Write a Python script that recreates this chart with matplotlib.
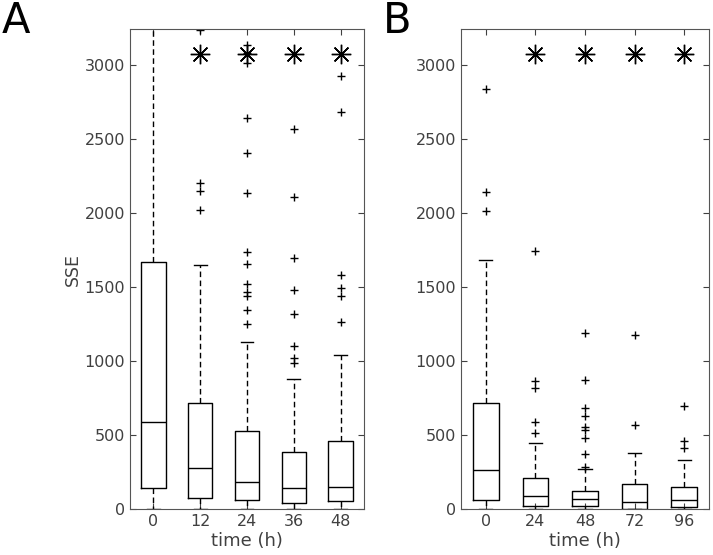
import matplotlib
matplotlib.use("Agg")
import matplotlib.pyplot as plt

# panel A: SSE over time, 0-48 h
a_labels = ["0", "12", "24", "36", "48"]
a_q1 = [140, 77, 61, 38, 52]
a_med = [585, 277, 182, 142, 151]
a_q3 = [1668, 713, 528, 382, 457]
a_lo = [0, 0, 0, 0, 0]
a_hi = [3600, 1646, 1127, 877, 1039]
a_fliers = [
    [],
    [2019, 2148, 2201, 3231],
    [1246, 1340, 1441, 1462, 1516, 1657, 1734, 2136, 2404, 2638, 3011, 3080, 3135],
    [985, 1016, 1102, 1313, 1477, 1693, 2105, 2566],
    [1264, 1437, 1489, 1577, 2680, 2921],
]
a_sig = [False, True, True, True, True]

# panel B: SSE over time, 0-96 h
b_labels = ["0", "24", "48", "72", "96"]
b_q1 = [63, 20, 20, 2, 11]
b_med = [263, 88, 70, 45, 61]
b_q3 = [715, 212, 124, 169, 151]
b_lo = [0, 0, 0, 0, 0]
b_hi = [1680, 445, 272, 378, 333]
b_fliers = [
    [2012, 2143, 2838],
    [513, 585, 814, 864, 1741],
    [285, 371, 481, 535, 553, 629, 679, 868, 1187],
    [567, 1172],
    [414, 459, 695],
]
b_sig = [False, True, True, True, True]

sig_y = 3074
grey = "#404040"


def draw_panel(ax, labels, q1, med, q3, lo, hi, fliers, sig):
    stats = []
    for i in range(len(labels)):
        stats.append(dict(q1=q1[i], med=med[i], q3=q3[i], whislo=lo[i],
                          whishi=hi[i], fliers=fliers[i], label=labels[i]))
    pos = list(range(1, len(labels) + 1))
    ax.bxp(stats, positions=pos, widths=0.52, showfliers=True,
           boxprops=dict(color="black", linewidth=1.0),
           medianprops=dict(color="black", linewidth=1.0),
           whiskerprops=dict(color="black", linewidth=1.0, linestyle=(0, (4, 2.5))),
           capprops=dict(color="black", linewidth=1.0),
           capwidths=0.27,
           flierprops=dict(marker="+", markeredgecolor="black", markersize=6,
                           markeredgewidth=1.0))
    sx = [p for p, s in zip(pos, sig) if s]
    ax.plot(sx, [sig_y] * len(sx), linestyle="none", marker=(8, 2, 0),
            markersize=14, markeredgewidth=1.0, color="black")
    ax.plot(sx, [sig_y] * len(sx), linestyle="none", marker="o",
            markersize=2.5, color="black")
    ax.set_xlim(0.5, 5.5)
    ax.set_ylim(0, 3240)
    ax.set_yticks([0, 500, 1000, 1500, 2000, 2500, 3000])
    ax.set_xticks(pos)
    ax.set_xticklabels(labels)
    ax.tick_params(direction="in", top=True, right=True, length=4,
                   color=grey, labelcolor=grey, labelsize=11.5)
    for sp in ax.spines.values():
        sp.set_color("#555555")
    ax.set_xlabel("time (h)", fontsize=13, color=grey, labelpad=2)


fig = plt.figure(figsize=(7.13, 5.55), dpi=100)
ax_a = fig.add_axes([130 / 713, 46 / 555, 234 / 713, 480 / 555])
ax_b = fig.add_axes([461 / 713, 46 / 555, 248 / 713, 480 / 555])

draw_panel(ax_a, a_labels, a_q1, a_med, a_q3, a_lo, a_hi, a_fliers, a_sig)
draw_panel(ax_b, b_labels, b_q1, b_med, b_q3, b_lo, b_hi, b_fliers, b_sig)
ax_a.set_ylabel("SSE", fontsize=12.5, color=grey, labelpad=2)

fig.text(2 / 713, 1 - 33 / 555, "A", fontsize=30, va="baseline", ha="left")
fig.text(383 / 713, 1 - 33 / 555, "B", fontsize=30, va="baseline", ha="left")

fig.savefig("out.png", dpi=100)
